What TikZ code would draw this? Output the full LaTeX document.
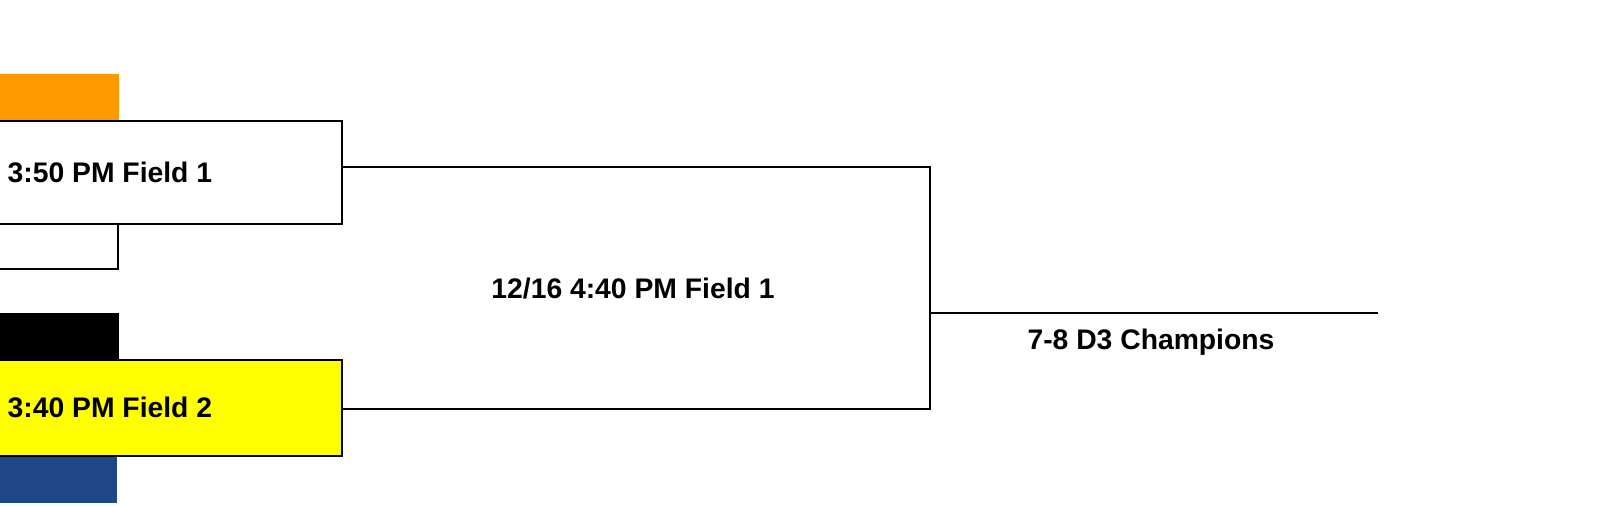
\documentclass[tikz,border=0pt]{standalone}
\usepackage{fontspec}
\setmainfont{Liberation Sans}
\usetikzlibrary{calc}
\definecolor{teamorange}{HTML}{FF9900}
\definecolor{teamblue}{HTML}{1F4788}
\definecolor{matchyellow}{HTML}{FFFF00}
\begin{document}
\begin{tikzpicture}[x=0.5pt,y=-0.5pt,
  line width=1pt,
  lbl/.style={inner sep=0pt,font=\fontsize{14.15}{17}\selectfont\bfseries},
  matchbox/.style={draw=black,line width=1pt,inner sep=0pt,anchor=north west},
  swatch/.style={inner sep=0pt,anchor=north west,draw=none}
]
\useasboundingbox (0,0) rectangle (1600,505);
% team colour swatches
\node[swatch,fill=teamorange,minimum width=64pt,minimum height=23.65pt] (s1) at (-10,72.7) {};
\node[swatch,fill=black,minimum width=64pt,minimum height=23.5pt] (s2) at (-10,312) {};
\node[swatch,fill=teamblue,minimum width=63pt,minimum height=23.5pt] (s3) at (-10,455) {};
% match boxes
\node[matchbox,fill=white,minimum width=175.5pt,minimum height=51.35pt] (m1) at (-10,120) {};
\node[matchbox,fill=matchyellow,minimum width=175.5pt,minimum height=48pt] (m2) at (-10,359) {};
\node[lbl,anchor=base west] (t1) at (6.7,182.7) {3:50 PM Field 1};
\node[lbl,anchor=base west] (t2) at (6.7,417) {3:40 PM Field 2};
% earlier-round bracket below box 1
\coordinate (b1) at (118,222.7);
\coordinate (b2) at (118,269);
\coordinate (b3) at (-10,269);
\draw (b1) -- (b2) -- (b3);
% final bracket
\coordinate (jt) at (930,167);
\coordinate (jb) at (930,409);
\coordinate (jm) at (930,313);
\coordinate (cend) at (1378,313);
\draw (m1.east |- jt) -- (jt) -- (jb) -- (m2.east |- jb);
\draw (jm) -- (cend);
\node[lbl,anchor=base] (t3) at (633,298) {12/16 4:40 PM Field 1};
\node[lbl,anchor=base] (t4) at (1151,349) {7-8 D3 Champions};
\end{tikzpicture}
\end{document}
